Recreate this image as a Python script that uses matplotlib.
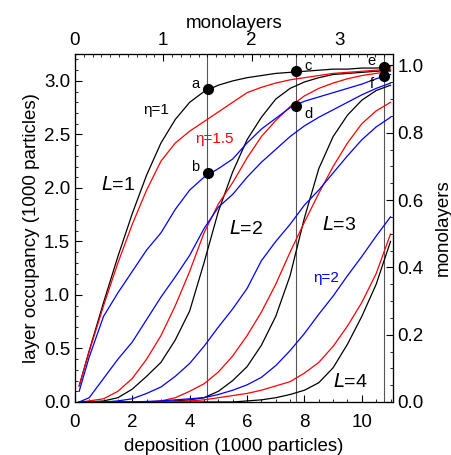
import numpy as np
import matplotlib.pyplot as plt
from matplotlib.ticker import MultipleLocator

plt.rcParams['font.family'] = ['Liberation Sans', 'DejaVu Sans']

# deposition (1000 particles)
dep = [0.15, 0.5, 1.0, 1.5, 2.0, 2.5, 3.0, 3.5, 4.0, 4.5, 5.0, 5.5,
       6.0, 6.5, 7.0, 7.5, 8.0, 8.5, 9.0, 9.5, 10.0, 10.5, 11.0]

# layer occupancy (1000 particles), eta = 1 (black)
L1_eta1 = [0.15, 0.48, 0.93, 1.36, 1.76, 2.12, 2.42, 2.64, 2.80, 2.90, 2.96, 3.00,
           3.03, 3.05, 3.07, 3.08, 3.09, 3.10, 3.11, 3.11, 3.12, 3.12, 3.13]
L2_eta1 = [0.0, 0.0, 0.01, 0.04, 0.12, 0.24, 0.37, 0.58, 0.85, 1.30, 1.78, 2.15,
           2.45, 2.66, 2.83, 2.93, 2.99, 3.03, 3.06, 3.07, 3.08, 3.09, 3.10]
L3_eta1 = [0.0, 0.0, 0.0, 0.0, 0.0, 0.0, 0.0, 0.01, 0.02, 0.04, 0.10, 0.20,
           0.33, 0.53, 0.80, 1.18, 1.72, 2.18, 2.48, 2.68, 2.82, 2.91, 2.96]
L4_eta1 = [0.0, 0.0, 0.0, 0.0, 0.0, 0.0, 0.0, 0.0, 0.0, 0.0, 0.0, 0.0,
           0.01, 0.02, 0.04, 0.07, 0.11, 0.18, 0.32, 0.54, 0.80, 1.10, 1.50]

# eta = 1.5 (red)
L1_eta15 = [0.15, 0.47, 0.90, 1.30, 1.66, 1.98, 2.25, 2.42, 2.53, 2.62, 2.71, 2.80,
            2.89, 2.94, 2.98, 3.01, 3.03, 3.05, 3.07, 3.08, 3.09, 3.10, 3.11]
L2_eta15 = [0.0, 0.01, 0.03, 0.10, 0.22, 0.40, 0.62, 0.90, 1.22, 1.58, 1.85, 2.05,
            2.28, 2.48, 2.63, 2.76, 2.86, 2.93, 2.98, 3.02, 3.05, 3.07, 3.09]
L3_eta15 = [0.0, 0.0, 0.0, 0.0, 0.0, 0.0, 0.01, 0.04, 0.10, 0.17, 0.28, 0.43,
            0.62, 0.84, 1.10, 1.40, 1.68, 1.95, 2.20, 2.42, 2.60, 2.72, 2.80]
L4_eta15 = [0.0, 0.0, 0.0, 0.0, 0.0, 0.0, 0.0, 0.005, 0.01, 0.02, 0.04, 0.06,
            0.08, 0.11, 0.15, 0.19, 0.27, 0.37, 0.52, 0.71, 0.93, 1.20, 1.57]

# eta = 2 (blue)
L1_eta2 = [0.10, 0.42, 0.80, 1.02, 1.22, 1.42, 1.58, 1.80, 1.98, 2.10, 2.18, 2.27,
           2.42, 2.55, 2.65, 2.75, 2.81, 2.85, 2.89, 2.93, 2.97, 3.02, 3.06]
L2_eta2 = [0.0, 0.04, 0.22, 0.40, 0.56, 0.77, 0.98, 1.17, 1.37, 1.62, 1.82, 1.94,
           2.10, 2.24, 2.36, 2.48, 2.58, 2.66, 2.73, 2.80, 2.87, 2.93, 2.98]
L3_eta2 = [0.0, 0.0, 0.0, 0.01, 0.03, 0.08, 0.14, 0.24, 0.36, 0.52, 0.70, 0.87,
           1.06, 1.32, 1.50, 1.66, 1.84, 1.98, 2.14, 2.30, 2.45, 2.57, 2.66]
L4_eta2 = [0.0, 0.0, 0.0, 0.0, 0.0, 0.005, 0.01, 0.02, 0.03, 0.04, 0.07, 0.11,
           0.16, 0.23, 0.34, 0.48, 0.64, 0.82, 0.99, 1.18, 1.36, 1.55, 1.73]

# marked points
pt_labels = ['a', 'b', 'c', 'd', 'e', 'f']
pt_x = [4.63, 4.63, 7.70, 7.70, 10.78, 10.78]
pt_y = [2.92, 2.14, 3.09, 2.77, 3.13, 3.05]

# monolayer guides
guide_ml = [1.5, 2.5, 3.5]

MLX = 3.08   # 1000 particles per monolayer (top axis)
MLY = 3.145  # 1000 particles per monolayer (right axis)
XMAX = 11.08
YMAX = 3.25

fig = plt.figure(figsize=(4.51, 4.55), dpi=100)
ax = fig.add_axes([0.166, 0.1165, 0.705, 0.7645])

for m in guide_ml:
    ax.axvline(m * MLX, color='#555555', lw=0.8, zorder=1)

curves = [(L1_eta1, 'black'), (L2_eta1, 'black'), (L3_eta1, 'black'), (L4_eta1, 'black'),
          (L1_eta15, 'red'), (L2_eta15, 'red'), (L3_eta15, 'red'), (L4_eta15, 'red'),
          (L1_eta2, 'blue'), (L2_eta2, 'blue'), (L3_eta2, 'blue'), (L4_eta2, 'blue')]
for yy, c in curves:
    ax.plot(dep, yy, color=c, lw=0.9, zorder=2)

ax.plot(pt_x, pt_y, 'o', color='black', ms=7, zorder=4)
offs = {'a': (-9, 4), 'b': (-9, 4), 'c': (9, 4), 'd': (9, -6), 'e': (-9, 4), 'f': (-9, -6)}
for lab, x, y in zip(pt_labels, pt_x, pt_y):
    dx, dy = offs[lab]
    ax.annotate(lab, (x, y), xytext=(dx, dy), textcoords='offset points',
                ha='center', va='center', fontsize=10.5)

ax.text(2.85, 2.73, 'η=1', color='black', fontsize=11, ha='center', va='center')
ax.text(4.85, 2.46, 'η=1.5', color='red', fontsize=11, ha='center', va='center')
ax.text(8.75, 1.16, 'η=2', color='blue', fontsize=11, ha='center', va='center')
ax.text(1.5, 2.03, '$\\it{L}$=1', fontsize=14, ha='center', va='center')
ax.text(5.95, 1.62, '$\\it{L}$=2', fontsize=14, ha='center', va='center')
ax.text(9.2, 1.65, '$\\it{L}$=3', fontsize=14, ha='center', va='center')
ax.text(9.6, 0.19, '$\\it{L}$=4', fontsize=14, ha='center', va='center')

ax.set_xlim(0, XMAX)
ax.set_ylim(0, YMAX)
ax.xaxis.set_major_locator(MultipleLocator(2))
ax.xaxis.set_minor_locator(MultipleLocator(0.5))
ax.yaxis.set_major_locator(MultipleLocator(0.5))
ax.yaxis.set_minor_locator(MultipleLocator(0.1))
ax.yaxis.set_major_formatter('{x:.1f}')
ax.tick_params(which='both', direction='in', labelsize=13.5)
ax.tick_params(which='major', length=5)
ax.tick_params(which='minor', length=2.5)
ax.tick_params(axis='x', pad=9)
ax.set_xlabel('deposition (1000 particles)', fontsize=13.5, labelpad=5)
ax.set_ylabel('layer occupancy (1000 particles)', fontsize=13.5, labelpad=3)

# top axis in monolayers
top = ax.twiny()
top.set_xlim(0, XMAX / MLX)
top.xaxis.set_major_locator(MultipleLocator(1))
top.xaxis.set_minor_locator(MultipleLocator(0.1))
top.tick_params(which='both', direction='in', labelsize=13.5)
top.tick_params(which='major', length=5)
top.tick_params(which='minor', length=2.5)
top.set_xlabel('monolayers', fontsize=13.5, labelpad=3)

# right axis in monolayers
right = ax.twinx()
right.set_ylim(0, YMAX / MLY)
right.yaxis.set_major_locator(MultipleLocator(0.2))
right.yaxis.set_minor_locator(MultipleLocator(0.05))
right.yaxis.set_major_formatter('{x:.1f}')
right.tick_params(which='both', direction='in', labelsize=13.5)
right.tick_params(which='major', length=5)
right.tick_params(which='minor', length=2.5)
right.set_ylabel('monolayers', fontsize=13.5, labelpad=8)

fig.savefig('out.png', dpi=100)
